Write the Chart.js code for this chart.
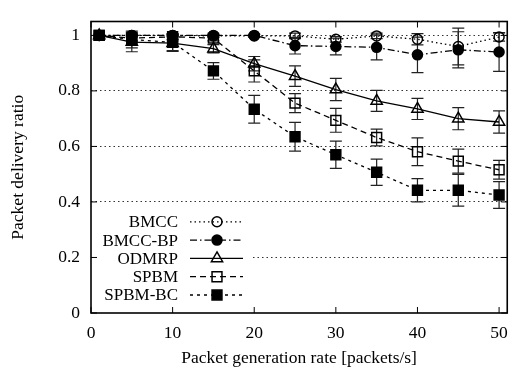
<!DOCTYPE html>
<html>
<head>
<meta charset="utf-8">
<script src="https://cdn.jsdelivr.net/npm/chart.js@4/dist/chart.umd.min.js"></script>
<style>
  html, body { margin:0; padding:0; background:#fff; }
  canvas { display:block; }
</style>
</head>
<body>
<canvas id="pdr" width="518" height="374"></canvas>
<script>
// packet generation rate [packets/s]
const rates = [1, 5, 10, 15, 20, 25, 30, 35, 40, 45, 50];

// delivery ratio per protocol
const bmcc    = [1.000, 1.000, 1.000, 0.998, 0.998, 0.998, 0.986, 0.998, 0.986, 0.960, 0.994];
const bmccBp  = [1.000, 1.000, 1.000, 1.000, 1.000, 0.963, 0.960, 0.957, 0.930, 0.948, 0.940];
const odmrp   = [1.000, 0.976, 0.972, 0.952, 0.898, 0.853, 0.805, 0.764, 0.735, 0.700, 0.688];
const spbm    = [1.000, 0.990, 0.995, 0.990, 0.872, 0.756, 0.694, 0.632, 0.581, 0.547, 0.516];
const spbmBc  = [1.000, 0.985, 0.975, 0.872, 0.734, 0.635, 0.570, 0.507, 0.442, 0.442, 0.425];

// half-width of the confidence intervals
const bmccErr   = [0, 0.005, 0.005, 0.005, 0.005, 0.010, 0.010, 0.010, 0.020, 0.066, 0.015];
const bmccBpErr = [0, 0.005, 0.005, 0.005, 0.005, 0.030, 0.030, 0.045, 0.064, 0.065, 0.070];
const odmrpErr  = [0, 0.035, 0.030, 0.015, 0.026, 0.037, 0.040, 0.038, 0.038, 0.040, 0.040];
const spbmErr   = [0, 0.010, 0.010, 0.010, 0.040, 0.034, 0.043, 0.030, 0.050, 0.043, 0.034];
const spbmBcErr = [0, 0.030, 0.030, 0.030, 0.050, 0.052, 0.049, 0.047, 0.042, 0.057, 0.048];

const xTicks = [0, 10, 20, 30, 40, 50];
const yTicks = [0, 0.2, 0.4, 0.6, 0.8, 1];

const SERIF = "'Liberation Serif', 'Times New Roman', serif";
const NONE = 'rgba(0,0,0,0)';

const series = [
  { label:'BMCC',     y:bmcc,   err:bmccErr,   dash:[1.5,3],       style:'circle',   r:5,   fill:NONE },
  { label:'BMCC-BP',  y:bmccBp, err:bmccBpErr, dash:[7,3,1.5,3],   style:'circle',   r:5,   fill:'#000' },
  { label:'ODMRP',    y:odmrp,  err:odmrpErr,  dash:[],            style:'triangle', r:6.5, fill:NONE },
  { label:'SPBM',     y:spbm,   err:spbmErr,   dash:[6,4],         style:'rect',     r:7,   fill:NONE },
  { label:'SPBM-BC',  y:spbmBc, err:spbmBcErr, dash:[3,4],         style:'rect',     r:7,   fill:'#000' },
];

const datasets = series.map(s => ({
  label: s.label,
  data: rates.map((x, i) => ({ x, y: s.y[i] })),
  borderColor:'#000', borderWidth:1.3, borderDash:s.dash,
  pointStyle:s.style, pointRadius:s.r, pointHoverRadius:s.r,
  pointBackgroundColor:s.fill, pointBorderColor:'#000', pointBorderWidth:1.5,
  fill:false, tension:0
}));

// error bars under the markers
const errorBars = {
  id:'errorBars',
  beforeDatasetsDraw(chart) {
    const { ctx, scales:{ x, y } } = chart;
    ctx.save();
    ctx.strokeStyle = '#222';
    ctx.lineWidth = 1.2;
    series.forEach(s => {
      s.err.forEach((e, i) => {
        if (!e) return;
        const px = x.getPixelForValue(rates[i]);
        const lo = y.getPixelForValue(s.y[i] - e);
        const hi = y.getPixelForValue(s.y[i] + e);
        ctx.beginPath();
        ctx.moveTo(px, lo); ctx.lineTo(px, hi);
        ctx.moveTo(px - 6, lo); ctx.lineTo(px + 6, lo);
        ctx.moveTo(px - 6, hi); ctx.lineTo(px + 6, hi);
        ctx.stroke();
      });
    });
    ctx.restore();
  }
};

// key box in the lower left corner of the plot
const keyBox = {
  id:'keyBox',
  afterDatasetsDraw(chart) {
    const { ctx, chartArea:a } = chart;
    const rowH = 18.3;
    const y0 = a.bottom - 18 - rowH * (series.length - 1);
    ctx.save();
    ctx.fillStyle = '#fff';
    ctx.fillRect(a.left + 2, y0 - 11, 160, rowH * series.length + 3);
    ctx.font = '17px ' + SERIF;
    ctx.textAlign = 'right';
    ctx.textBaseline = 'middle';
    series.forEach((s, i) => {
      const yy = y0 + i * rowH;
      ctx.fillStyle = '#000';
      ctx.fillText(s.label, a.left + 87, yy + 1);
      ctx.strokeStyle = '#000';
      ctx.lineWidth = 1.3;
      ctx.setLineDash(s.dash);
      ctx.beginPath();
      ctx.moveTo(a.left + 99, yy); ctx.lineTo(a.left + 152, yy);
      ctx.stroke();
      ctx.setLineDash([]);
      ctx.fillStyle = s.fill;
      ctx.lineWidth = 1.5;
      Chart.helpers.drawPoint(ctx, { pointStyle:s.style, radius:s.r, rotation:0, borderWidth:1.5 }, a.left + 126, yy);
    });
    ctx.restore();
  }
};

// plot frame with inward ticks on all four sides
const frame = {
  id:'frame',
  afterDraw(chart) {
    const { ctx, chartArea:a, scales:{ x, y } } = chart;
    ctx.save();
    ctx.strokeStyle = '#000';
    ctx.lineWidth = 1;
    ctx.beginPath();
    xTicks.forEach(v => {
      const px = x.getPixelForValue(v);
      ctx.moveTo(px, a.bottom); ctx.lineTo(px, a.bottom - 6);
      ctx.moveTo(px, a.top); ctx.lineTo(px, a.top + 6);
    });
    yTicks.forEach(v => {
      const py = y.getPixelForValue(v);
      ctx.moveTo(a.left, py); ctx.lineTo(a.left + 6, py);
      ctx.moveTo(a.right, py); ctx.lineTo(a.right - 6, py);
    });
    ctx.stroke();
    ctx.lineWidth = 1.6;
    ctx.strokeRect(a.left, a.top, a.right - a.left, a.bottom - a.top);
    ctx.restore();
  }
};

new Chart(document.getElementById('pdr'), {
  type:'line',
  data:{ datasets },
  options:{
    responsive:false, animation:false,
    layout:{ padding:{ top:6, right:3, left:0, bottom:0 } },
    plugins:{ legend:{ display:false }, tooltip:{ enabled:false } },
    scales:{
      x:{
        type:'linear', min:0, max:51,
        afterFit:s => { s.height = 61; },
        grid:{ display:false, drawTicks:false },
        border:{ display:false },
        ticks:{ stepSize:10, includeBounds:false, padding:10, color:'#000', font:{ family:SERIF, size:17.5 } },
        title:{ display:true, text:'Packet generation rate [packets/s]', color:'#000',
                font:{ family:SERIF, size:17.5 }, padding:{ bottom:5 } }
      },
      y:{
        type:'linear', min:0, max:1.05,
        afterFit:s => { s.width = 91; },
        grid:{ drawTicks:false, lineWidth:1,
               color:c => (c.tick && c.tick.value > 0) ? '#333' : NONE },
        border:{ display:false, dash:[1.5,3] },
        ticks:{ stepSize:0.2, includeBounds:false, padding:11, color:'#000',
                font:{ family:SERIF, size:17.5 }, callback:v => String(+v.toFixed(1)) },
        title:{ display:true, text:'Packet delivery ratio', color:'#000',
                font:{ family:SERIF, size:17.5 }, padding:{ top:8 } }
      }
    }
  },
  plugins:[errorBars, keyBox, frame]
});
</script>
</body>
</html>
